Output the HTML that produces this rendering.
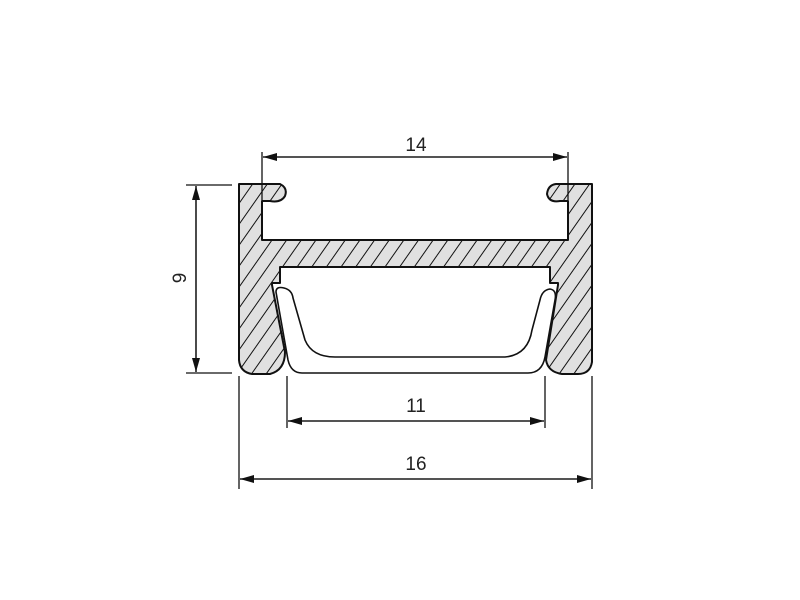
<!DOCTYPE html>
<html><head><style>body{margin:0;background:#fff}svg{display:block}</style></head><body>
<svg width="800" height="600" viewBox="0 0 800 600" xmlns="http://www.w3.org/2000/svg">
<defs>
<pattern id="h" patternUnits="userSpaceOnUse" width="12" height="12" patternTransform="rotate(35)">
<rect width="12" height="12" fill="#e0e0e0"/><line x1="0" y1="0" x2="0" y2="12" stroke="#111" stroke-width="2"/>
</pattern>
<marker id="a" markerWidth="14" markerHeight="8" refX="14" refY="4" orient="auto" markerUnits="userSpaceOnUse"><path d="M0,0 L14,4 L0,8 Z" fill="#111"/></marker>
</defs>
<g fill="url(#h)" stroke="#111" stroke-width="2" stroke-linejoin="round">
<path d="M239,184 L280,184 Q288,188 285,196 Q281,203 270,201 L262,201 L262,240 L568,240 L568,201 L560,201 Q549,203 547,194 Q548,185 556,184 L592,184 L592,362 Q590,374 578,374 L562,374 Q548,372 546,360 L558,285 L558,283 L550,283 L550,267 L280,267 L280,283 L272,283 L272,285 L285,352 Q285,370 270,374 L252,374 Q240,372 239,360 Z"/>
</g>
<g fill="none" stroke="#111" stroke-width="1.6">
<path d="M276,292 Q276,286 284,288 Q292,290 293,298 L305,340 Q312,357 335,357 L505,357 Q528,355 532,330 L540,300 Q542,290 550,289 Q557,290 555,300 L545,357 Q542,373 528,373 L302,373 Q291,373 288,360 Z"/>
</g>
<g stroke="#111" stroke-width="1.3" fill="none">
<line x1="262" y1="152" x2="262" y2="200"/><line x1="568" y1="152" x2="568" y2="200"/>
<line x1="263" y1="157" x2="567" y2="157" marker-end="url(#a)"/>
<line x1="567" y1="157" x2="263" y2="157" marker-end="url(#a)"/>
<line x1="186" y1="185" x2="232" y2="185"/><line x1="186" y1="373" x2="232" y2="373"/>
<line x1="196" y1="372" x2="196" y2="186" marker-end="url(#a)"/>
<line x1="196" y1="186" x2="196" y2="372" marker-end="url(#a)"/>
<line x1="287" y1="376" x2="287" y2="428"/><line x1="545" y1="376" x2="545" y2="428"/>
<line x1="544" y1="421" x2="288" y2="421" marker-end="url(#a)"/>
<line x1="288" y1="421" x2="544" y2="421" marker-end="url(#a)"/>
<line x1="239" y1="376" x2="239" y2="489"/><line x1="592" y1="376" x2="592" y2="489"/>
<line x1="591" y1="479" x2="240" y2="479" marker-end="url(#a)"/>
<line x1="240" y1="479" x2="591" y2="479" marker-end="url(#a)"/>
</g>
<g font-family="Liberation Sans, sans-serif" font-size="19" fill="#222" text-anchor="middle">
<text x="416" y="151">14</text>
<text x="416" y="412">11</text>
<text x="416" y="470">16</text>
<text x="0" y="0" transform="translate(186,278) rotate(-90)">9</text>
</g>
</svg>
</body></html>
